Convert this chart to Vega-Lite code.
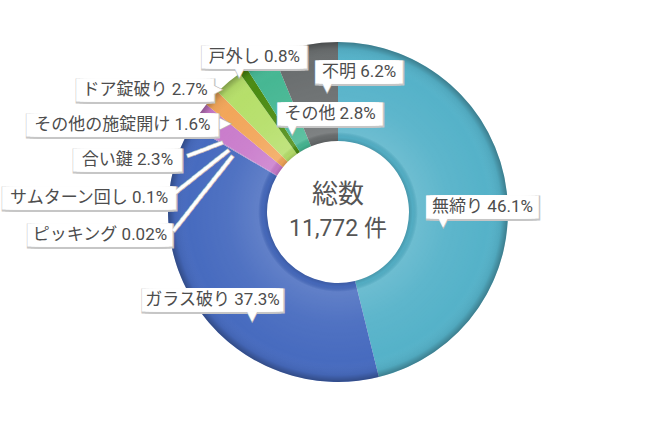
{
  "$schema": "https://vega.github.io/schema/vega-lite/v6.json",
  "width": 624,
  "height": 418,
  "autosize": {"type": "none"},
  "padding": {"left": 26, "top": 3, "right": 0, "bottom": 0},
  "background": "white",
  "config": {"view": {"stroke": null}},
  "datasets": {
    "slices": [
      {"i": 0, "cat": "無締り", "pct": 46.1, "label": "無締り 46.1%"},
      {"i": 1, "cat": "ガラス破り", "pct": 37.3, "label": "ガラス破り 37.3%"},
      {"i": 2, "cat": "ピッキング", "pct": 0.02, "label": "ピッキング 0.02%"},
      {"i": 3, "cat": "サムターン回し", "pct": 0.1, "label": "サムターン回し 0.1%"},
      {"i": 4, "cat": "合い鍵", "pct": 2.3, "label": "合い鍵 2.3%"},
      {"i": 5, "cat": "その他の施錠開け", "pct": 1.6, "label": "その他の施錠開け 1.6%"},
      {"i": 6, "cat": "ドア錠破り", "pct": 2.7, "label": "ドア錠破り 2.7%"},
      {"i": 7, "cat": "戸外し", "pct": 0.8, "label": "戸外し 0.8%"},
      {"i": 8, "cat": "その他", "pct": 2.8, "label": "その他 2.8%"},
      {"i": 9, "cat": "不明", "pct": 6.2, "label": "不明 6.2%"}
    ]
  },
  "layer": [
    {
      "data": {"name": "slices"},
      "mark": {"type": "arc", "outerRadius": 170, "innerRadius": 71, "stroke": null},
      "encoding": {
        "theta": {"field": "pct", "type": "quantitative", "stack": true},
        "order": {"field": "i", "type": "quantitative"},
        "color": {
          "field": "cat",
          "type": "nominal",
          "scale": {
            "domain": ["無締り", "ガラス破り", "ピッキング", "サムターン回し", "合い鍵", "その他の施錠開け", "ドア錠破り", "戸外し", "その他", "不明"],
            "range": ["#55b2c9", "#476bbf", "#e58c8c", "#9070c8", "#c97bcb", "#f2a65a", "#b6df6a", "#4b8b12", "#46b793", "#6a6e6f"]
          },
          "legend": null
        }
      }
    },
    {
      "data": {"values": [{"k": 1}]},
      "mark": {
        "type": "arc",
        "theta": 0,
        "theta2": 6.2832,
        "outerRadius": 170,
        "innerRadius": 71,
        "fill": {
          "gradient": "radial",
          "x1": 0.5, "y1": 0.5, "r1": 0,
          "x2": 0.5, "y2": 0.5, "r2": 0.5,
          "stops": [
            {"offset": 0, "color": "rgba(0,0,0,0.14)"},
            {"offset": 0.418, "color": "rgba(0,0,0,0.14)"},
            {"offset": 0.44, "color": "rgba(0,0,0,0.03)"},
            {"offset": 0.47, "color": "rgba(255,255,255,0.14)"},
            {"offset": 0.65, "color": "rgba(255,255,255,0.05)"},
            {"offset": 0.88, "color": "rgba(255,255,255,0)"},
            {"offset": 0.96, "color": "rgba(0,0,0,0.06)"},
            {"offset": 1, "color": "rgba(0,0,0,0.3)"}
          ]
        }
      },
      "encoding": {}
    },
    {
      "data": {"name": "slices"},
      "encoding": {
        "theta": {"field": "pct", "type": "quantitative", "stack": true},
        "order": {"field": "i", "type": "quantitative"},
        "detail": {"field": "cat", "type": "nominal"}
      },
      "layer": [
        {
          "mark": {
            "type": "text", "radius": 120, "font": "DejaVu Sans", "fontSize": 6,
            "baseline": "middle", "align": "center",
            "text": {"expr": "pad('', [25,33,34,42,24,47,32,23,23,18][datum.i], '━')"},
            "fill": "#c6c6c6", "stroke": "#c6c6c6", "strokeWidth": 24, "strokeJoin": "miter",
            "dx": {"expr": "[25.4,-29.3,-134.6,-145.8,-112.3,-126.5,-115.5,-16.8,47.2,44.3][datum.i] + 0.5"},
            "dy": {"expr": "[9.5,16.3,83.9,47.8,17.0,-6.5,-30.3,-54.9,8.5,-22.3][datum.i] + 1"}
          }
        },
        {
          "mark": {
            "type": "text", "radius": 120, "font": "DejaVu Sans", "fontSize": 12,
            "baseline": "middle",
            "align": {"expr": "['center','center','right','right','right','center','center','center','center','center'][datum.i]"},
            "angle": {"expr": "[0,0,-51.7,-38.4,-20.4,0,0,0,0,0][datum.i]"},
            "text": {"expr": "['▼','▼',pad('',13,'━'),pad('',10,'━'),pad('',5,'━'),'▶','▶','▼','▼','▼'][datum.i]"},
            "fill": "#bdbdbd", "stroke": "#bdbdbd", "strokeWidth": 2.5,
            "dx": {"expr": "[-14.1,10.2,-6.2,-5.5,-16.7,-24,-44.5,-31.8,9.2,12.3][datum.i]"},
            "dy": {"expr": "[23.5,31.3,1.6,-4.0,-6.2,-8.5,-31.3,-40.9,22.5,-8.3][datum.i]"}
          }
        },
        {
          "mark": {
            "type": "text", "radius": 120, "font": "DejaVu Sans", "fontSize": 6,
            "baseline": "middle", "align": "center",
            "text": {"expr": "pad('', [25,33,34,42,24,47,32,23,23,18][datum.i], '━')"},
            "fill": "white", "stroke": "white", "strokeWidth": 22, "strokeJoin": "miter",
            "dx": {"expr": "[25.4,-29.3,-134.6,-145.8,-112.3,-126.5,-115.5,-16.8,47.2,44.3][datum.i]"},
            "dy": {"expr": "[9.5,16.3,83.9,47.8,17.0,-6.5,-30.3,-54.9,8.5,-22.3][datum.i]"}
          }
        },
        {
          "mark": {
            "type": "text", "radius": 120, "font": "DejaVu Sans", "fontSize": 12,
            "baseline": "middle",
            "align": {"expr": "['center','center','right','right','right','center','center','center','center','center'][datum.i]"},
            "angle": {"expr": "[0,0,-51.7,-38.4,-20.4,0,0,0,0,0][datum.i]"},
            "text": {"expr": "['▼','▼',pad('',13,'━'),pad('',10,'━'),pad('',5,'━'),'▶','▶','▼','▼','▼'][datum.i]"},
            "fill": "white", "stroke": "white", "strokeWidth": 1,
            "dx": {"expr": "[-14.1,10.2,-6.2,-5.5,-16.7,-24,-44.5,-31.8,9.2,12.3][datum.i]"},
            "dy": {"expr": "[23.5,31.3,1.6,-4.0,-6.2,-8.5,-31.3,-40.9,22.5,-8.3][datum.i]"}
          }
        },
        {
          "mark": {
            "type": "text", "radius": 120, "font": "Roboto, Noto Sans CJK JP, sans-serif", "fontSize": 17,
            "baseline": "middle", "align": "center", "fill": "#4d4d4d",
            "dx": {"expr": "[25.4,-29.3,-134.6,-145.8,-112.3,-126.5,-115.5,-16.8,47.2,44.3][datum.i]"},
            "dy": {"expr": "[9.5,16.3,83.9,47.8,17.0,-6.5,-30.3,-54.9,8.5,-22.3][datum.i]"}
          },
          "encoding": {"text": {"field": "label", "type": "nominal"}}
        }
      ]
    },
    {
      "data": {"values": [{"t": "総数"}]},
      "mark": {"type": "text", "font": "Roboto, Noto Sans CJK JP, sans-serif", "fontSize": 26, "fill": "#555555", "baseline": "middle", "align": "center", "dy": -17},
      "encoding": {"text": {"field": "t", "type": "nominal"}}
    },
    {
      "data": {"values": [{"t": "11,772 件"}]},
      "mark": {"type": "text", "font": "Roboto, Noto Sans CJK JP, sans-serif", "fontSize": 23, "fill": "#555555", "baseline": "middle", "align": "center", "dy": 17},
      "encoding": {"text": {"field": "t", "type": "nominal"}}
    }
  ]
}
